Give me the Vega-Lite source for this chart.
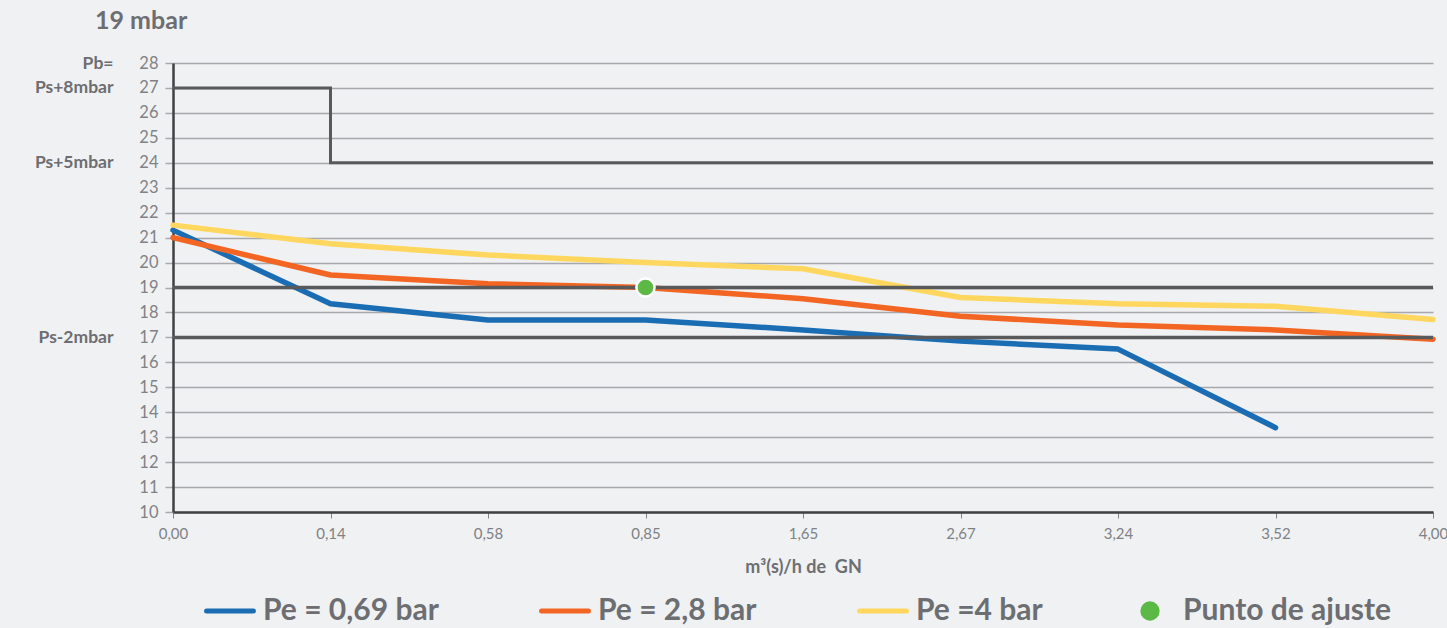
{
  "$schema": "https://vega.github.io/schema/vega-lite/v6.json",
  "width": 1260,
  "height": 449,
  "autosize": {"type": "none"},
  "padding": {"left": 173, "top": 63, "right": 14, "bottom": 116},
  "background": "#f0f1f3",
  "title": {"text": "19 mbar", "anchor": "start", "frame": "group", "dx": -78, "offset": 20, "fontSize": 25, "font": "Lato", "fontWeight": "bold", "color": "#6d6e71"},
  "config": {"view": {"stroke": null}, "font": "Lato", "legend": {"layout": {"bottom": {"anchor": "middle"}}}},
  "datasets": {
    "series": [
      {"q": "0,00", "v": 21.3, "s": "Pe = 0,69 bar"},
      {"q": "0,14", "v": 18.35, "s": "Pe = 0,69 bar"},
      {"q": "0,58", "v": 17.7, "s": "Pe = 0,69 bar"},
      {"q": "0,85", "v": 17.7, "s": "Pe = 0,69 bar"},
      {"q": "1,65", "v": 17.3, "s": "Pe = 0,69 bar"},
      {"q": "2,67", "v": 16.85, "s": "Pe = 0,69 bar"},
      {"q": "3,24", "v": 16.53, "s": "Pe = 0,69 bar"},
      {"q": "3,52", "v": 13.38, "s": "Pe = 0,69 bar"},
      {"q": "0,00", "v": 21.0, "s": "Pe = 2,8 bar"},
      {"q": "0,14", "v": 19.5, "s": "Pe = 2,8 bar"},
      {"q": "0,58", "v": 19.15, "s": "Pe = 2,8 bar"},
      {"q": "0,85", "v": 19.0, "s": "Pe = 2,8 bar"},
      {"q": "1,65", "v": 18.55, "s": "Pe = 2,8 bar"},
      {"q": "2,67", "v": 17.85, "s": "Pe = 2,8 bar"},
      {"q": "3,24", "v": 17.5, "s": "Pe = 2,8 bar"},
      {"q": "3,52", "v": 17.3, "s": "Pe = 2,8 bar"},
      {"q": "4,00", "v": 16.93, "s": "Pe = 2,8 bar"},
      {"q": "0,00", "v": 21.5, "s": "Pe =4 bar"},
      {"q": "0,14", "v": 20.75, "s": "Pe =4 bar"},
      {"q": "0,58", "v": 20.3, "s": "Pe =4 bar"},
      {"q": "0,85", "v": 20.0, "s": "Pe =4 bar"},
      {"q": "1,65", "v": 19.75, "s": "Pe =4 bar"},
      {"q": "2,67", "v": 18.6, "s": "Pe =4 bar"},
      {"q": "3,24", "v": 18.35, "s": "Pe =4 bar"},
      {"q": "3,52", "v": 18.25, "s": "Pe =4 bar"},
      {"q": "4,00", "v": 17.72, "s": "Pe =4 bar"}
    ],
    "step": [
      {"q": "0,00", "v": 27},
      {"q": "0,14", "v": 24},
      {"q": "4,00", "v": 24}
    ],
    "ref": [
      {"v": 19},
      {"v": 17}
    ],
    "pt": [
      {"q": "0,85", "v": 19, "s": "Punto de ajuste"}
    ]
  },
  "layer": [
    {
      "data": {"name": "series"},
      "mark": {"type": "line", "strokeWidth": 5.5, "strokeCap": "round", "strokeJoin": "round"},
      "encoding": {
        "x": {
          "field": "q", "type": "ordinal",
          "scale": {"type": "point", "padding": 0, "domain": ["0,00", "0,14", "0,58", "0,85", "1,65", "2,67", "3,24", "3,52", "4,00"]},
          "axis": {"title": "m³(s)/h de\u00a0\u00a0GN", "titleFontSize": 18, "titleFontWeight": "bold", "titleColor": "#6d6e71", "titleFont": "Lato", "titlePadding": 17,
                   "labelFontSize": 15, "labelColor": "#808285", "labelAngle": 0, "labelPadding": 8, "labelFont": "Lato",
                   "tickSize": 6, "tickColor": "#808285", "tickWidth": 1,
                   "domainColor": "#414042", "domainWidth": 2.5, "grid": false}
        },
        "y": {
          "field": "v", "type": "quantitative",
          "scale": {"domain": [10, 28], "nice": false, "zero": false},
          "axis": {"orient": "left", "title": null, "values": [10, 11, 12, 13, 14, 15, 16, 17, 18, 19, 20, 21, 22, 23, 24, 25, 26, 27, 28],
                   "grid": true, "gridColor": "#a7a9ac", "gridWidth": 1.5,
                   "domainColor": "#414042", "domainWidth": 2.5,
                   "tickColor": "#a7a9ac", "tickSize": 8, "tickWidth": 1.5,
                   "labelPadding": 7, "labelFontSize": 16.5, "labelColor": "#808285", "labelFont": "Lato"}
        },
        "color": {
          "field": "s", "type": "nominal",
          "scale": {"domain": ["Pe = 0,69 bar", "Pe = 2,8 bar", "Pe =4 bar", "Punto de ajuste"], "range": ["#1a6db3", "#f26522", "#ffd75e", "#5cb946"]},
          "legend": {
            "orient": "bottom", "direction": "horizontal", "title": null,
            "labelFontSize": 30, "labelFont": "Lato", "labelFontWeight": "bold", "labelColor": "#6d6e71",
            "symbolType": "stroke", "symbolSize": 2200, "symbolStrokeWidth": 5,
            "columnPadding": 92, "labelOffset": 18, "offset": 20, "labelLimit": 400,
            "encode": {"symbols": {"update": {
              "shape": {"signal": "datum.value === 'Punto de ajuste' ? 'circle' : 'stroke'"},
              "size": {"signal": "datum.value === 'Punto de ajuste' ? 300 : 2200"},
              "fill": {"signal": "datum.value === 'Punto de ajuste' ? '#5cb946' : 'transparent'"},
              "stroke": {"signal": "datum.value === 'Punto de ajuste' ? '#ffffff' : scale('color', datum.value)"},
              "strokeWidth": {"signal": "datum.value === 'Punto de ajuste' ? 2 : 5"},
              "strokeCap": {"value": "round"}
            }}}
          }
        }
      }
    },
    {
      "data": {"name": "step"},
      "mark": {"type": "line", "interpolate": "step-after", "color": "#58595b", "strokeWidth": 3},
      "encoding": {
        "x": {"field": "q", "type": "ordinal"},
        "y": {
          "field": "v", "type": "quantitative",
          "axis": {"orient": "left", "title": null, "values": [28, 27, 24, 17],
                   "labelExpr": "datum.value == 28 ? 'Pb=' : datum.value == 27 ? 'Ps+8mbar' : datum.value == 24 ? 'Ps+5mbar' : 'Ps-2mbar'",
                   "ticks": false, "domain": false, "grid": false, "labelPadding": 60,
                   "labelFontWeight": "bold", "labelFontSize": 17.5, "labelColor": "#6d6e71", "labelFont": "Lato"}
        }
      }
    },
    {
      "data": {"name": "ref"},
      "mark": {"type": "rule", "color": "#58595b", "strokeWidth": 3.5},
      "encoding": {
        "y": {"field": "v", "type": "quantitative", "axis": null}
      }
    },
    {
      "data": {"name": "pt"},
      "mark": {"type": "point", "filled": true, "shape": "circle", "size": 330, "stroke": "#ffffff", "strokeWidth": 2.5, "opacity": 1},
      "encoding": {
        "x": {"field": "q", "type": "ordinal"},
        "y": {"field": "v", "type": "quantitative", "axis": null},
        "color": {"field": "s", "type": "nominal"}
      }
    }
  ],
  "resolve": {"axis": {"y": "independent"}}
}
